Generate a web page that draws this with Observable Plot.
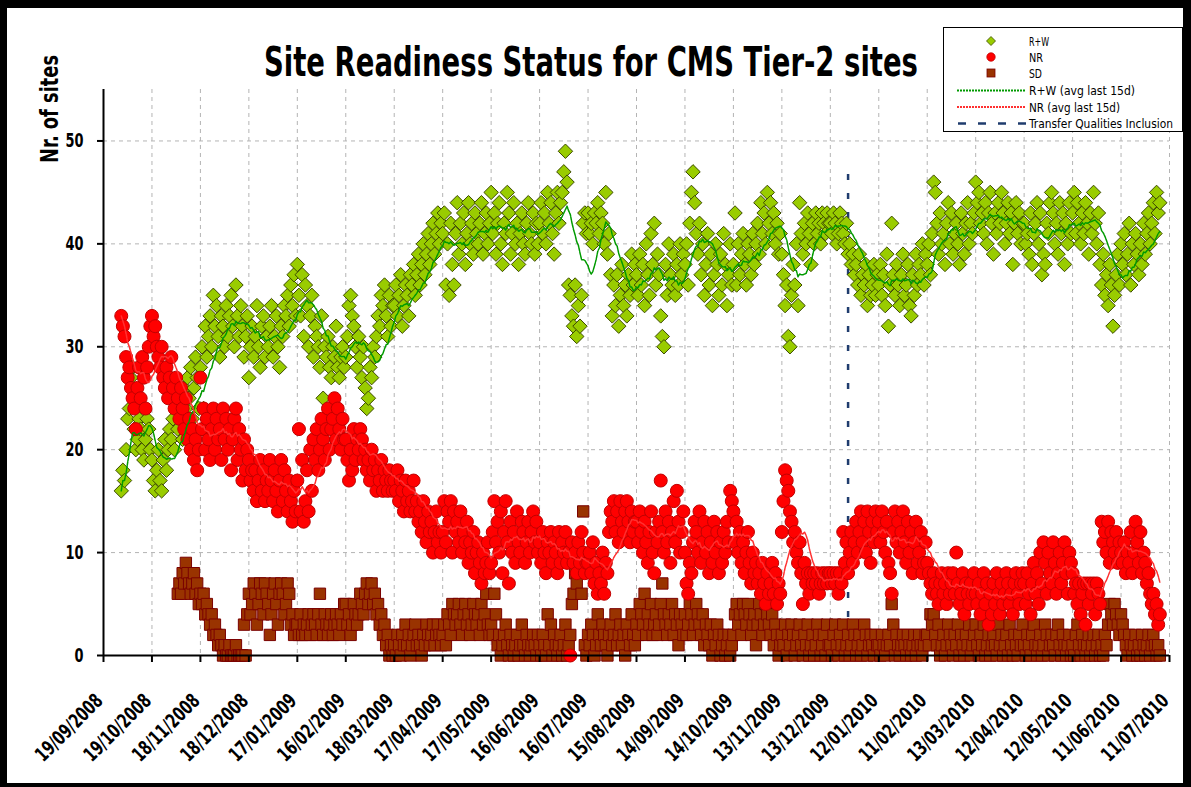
<!DOCTYPE html>
<html><head><meta charset="utf-8">
<script src="https://cdn.jsdelivr.net/npm/d3@7"></script>
<script src="https://cdn.jsdelivr.net/npm/@observablehq/plot@0.6"></script>
<style>
html,body{margin:0;padding:0;background:#000;width:1191px;height:787px;overflow:hidden;}
#panel{position:absolute;left:7px;top:8px;width:1176px;height:775px;background:#fff;}
#chart{position:absolute;left:0;top:0;}
#overlay{position:absolute;left:0;top:0;pointer-events:none;}
</style></head><body>
<div id="panel"></div>
<div id="chart"></div>
<svg id="overlay" width="1191" height="787"></svg>
<script>
// ---------------- data ----------------
const chartTitle = "Site Readiness Status for CMS Tier-2 sites";
const yLabel = "Nr. of sites";
const tickLabels = ["19/09/2008","19/10/2008","18/11/2008","18/12/2008","17/01/2009","16/02/2009","18/03/2009","17/04/2009","17/05/2009","16/06/2009","16/07/2009","15/08/2009","14/09/2009","14/10/2009","13/11/2009","13/12/2009","12/01/2010","11/02/2010","13/03/2010","12/04/2010","12/05/2010","11/06/2010","11/07/2010"];
const yTicks = [0, 10, 20, 30, 40, 50];
const seriesNames = ["R+W", "NR", "SD"];
const avgNames = ["R+W (avg last 15d)", "NR (avg last 15d)"];
const eventName = "Transfer Qualities Inclusion";
const eventDate = "24/12/2009";
const rwStart = "30/09/2008";
const nrStart = "30/09/2008";
const sdStart = "04/11/2008";

// daily R+W counts
const rwValues = [
16,18,17,20,23,24,27,28,22,20,21,23,22,20,19,21,23,22,20,
19,17,16,18,20,17,16,19,21,18,20,22,21,23,20,24,22,25,23,21,26,24,27,25,28,23,26,29,27,24,
28,30,24,32,29,31,33,30,35,32,34,31,29,33,32,30,34,31,33,35,32,30,36,33,31,34,32,29,31,33,
27,30,32,29,31,34,30,28,32,33,29,31,30,32,34,29,31,33,30,28,32,31,34,33,35,32,36,34,37,33,
38,35,33,37,31,36,34,30,33,35,29,32,31,30,28,33,25,30,29,31,28,27,30,29,32,28,27,29,30,28,
29,31,34,35,33,32,30,28,31,29,27,30,26,24,25,28,27,30,29,31,33,32,35,34,36,33,31,35,32,34,
34,36,33,35,37,32,34,36,35,33,37,36,38,35,37,39,36,38,40,37,39,41,38,40,42,39,41,43,40,42,
41,43,36,40,35,42,38,36,41,44,39,42,40,43,38,41,44,40,42,39,43,41,40,42,44,39,41,43,40,42,
45,41,43,39,42,44,40,38,42,41,45,43,39,41,44,40,42,38,41,43,40,39,42,44,41,40,43,39,42,40,
42,44,41,43,40,45,42,44,41,39,43,45,42,44,45,47,49,46,36,35,33,32,36,31,34,32,35,42,43,41,
43,41,42,40,43,42,44,41,43,42,40,45,39,41,37,33,36,34,37,32,35,38,34,36,33,37,35,39,36,38,
37,35,39,36,38,34,40,37,35,41,38,42,36,39,37,33,31,30,38,35,40,37,36,39,35,38,36,40,37,39,
38,40,36,42,45,47,44,41,39,42,37,40,35,38,41,36,39,34,37,40,38,35,39,36,41,38,34,37,40,36,
38,43,36,40,37,39,41,38,36,40,39,37,41,38,40,42,39,44,41,43,40,45,42,44,41,43,40,42,39,41,
39,37,34,36,31,30,35,38,36,40,34,44,41,39,42,40,43,41,38,42,40,43,41,42,40,43,42,41,43,42,
42,41,43,42,40,41,43,42,41,40,42,39,40,38,39,37,38,36,39,35,37,36,38,34,37,35,36,38,35,37,
36,38,35,37,34,39,32,36,42,37,35,38,36,34,37,39,35,36,38,34,33,37,35,39,36,38,37,40,36,39,
38,40,37,41,46,45,42,39,43,40,41,38,42,44,40,43,39,41,42,40,38,43,41,39,42,44,40,42,41,43,
46,44,45,42,43,41,44,40,43,45,42,39,43,41,44,42,45,43,40,42,44,41,43,38,42,44,41,43,40,42,
42,40,41,39,43,38,41,42,44,40,43,37,39,38,42,41,44,45,43,40,42,39,44,41,43,38,42,40,44,41,
43,45,41,44,42,40,43,41,44,42,39,43,41,45,42,40,43,38,36,39,35,37,34,38,36,32,35,37,39,36,
40,38,41,37,39,42,36,40,38,41,39,37,40,38,42,39,41,43,40,42,44,41,45,43,44
];

// daily NR counts
const nrValues = [
33,32,31,29,27,28,26,25,24,22,26,28,25,29,27,24,28,30,32,
33,31,32,30,29,28,30,27,26,28,25,27,29,26,24,27,25,23,26,24,22,25,21,23,20,22,19,21,18,20,
27,22,24,20,23,21,19,22,24,20,23,21,22,19,24,21,23,20,22,18,21,23,24,19,22,20,17,21,18,20,
19,17,18,16,18,15,17,19,16,18,15,17,16,19,17,15,18,16,14,17,19,15,18,16,14,17,15,13,16,14,
17,22,14,19,13,15,18,14,20,16,21,19,22,18,20,23,21,19,22,24,20,22,23,25,21,24,22,20,23,21,
21,19,17,20,18,22,19,21,20,22,21,19,20,18,19,17,20,18,19,16,18,17,19,16,18,17,16,18,17,16,
17,16,18,15,17,16,14,17,15,16,14,15,17,14,15,13,14,12,15,13,11,14,12,13,10,12,14,11,12,10,
12,15,11,14,13,15,10,14,12,13,11,14,10,12,11,13,9,11,10,12,8,10,11,9,7,10,8,9,11,8,
9,12,15,11,13,10,14,8,12,15,11,7,13,10,12,9,14,11,10,13,12,9,11,13,10,12,14,11,13,10,
11,9,12,10,8,11,10,12,9,11,10,8,12,9,11,10,12,9,10,0,11,9,10,8,11,9,12,10,8,9,
9,10,8,11,7,9,6,8,7,10,6,9,8,12,14,13,15,12,14,11,15,13,12,14,15,13,11,14,12,13,
13,11,14,12,10,13,11,9,12,14,10,8,12,11,13,17,12,10,14,11,13,9,12,15,11,16,13,10,12,14,
10,7,6,9,8,11,13,12,10,14,9,11,13,10,12,8,11,9,13,10,12,8,11,9,12,10,13,11,16,15,
14,11,13,10,12,9,11,8,10,12,9,7,10,8,9,7,8,6,9,7,5,8,6,7,9,6,8,5,7,6,
12,15,18,17,16,14,13,11,12,10,9,11,8,5,9,7,8,6,8,7,8,7,8,6,7,8,7,8,7,8,
8,7,8,7,8,6,8,7,12,9,11,8,10,12,9,11,13,10,12,14,11,13,10,14,12,9,13,11,14,12,
13,11,14,12,10,13,9,8,6,12,14,11,13,10,12,14,11,9,13,10,12,8,11,13,9,10,12,8,9,11,
9,8,7,6,8,7,6,5,7,8,6,7,5,8,6,7,8,6,10,7,5,6,8,4,7,6,5,7,6,8,
6,5,7,4,6,8,5,7,3,6,4,7,5,8,6,4,7,5,6,8,7,5,6,4,7,8,6,5,7,8,
7,5,8,6,4,7,9,6,8,5,10,7,11,9,6,10,8,7,11,9,6,8,10,7,9,11,8,6,10,9,
8,6,7,5,7,4,6,7,3,7,5,7,6,7,4,7,6,5,13,11,12,10,13,9,12,11,10,12,9,11,
10,9,11,8,10,9,12,8,10,13,11,9,12,8,10,9,7,8,6,5,6,4,5,3,4
];

// daily SD counts
const sdValues = [
6,7,6,8,7,9,8,7,6,7,8,6,7,5,
6,5,6,4,5,4,3,4,2,3,2,1,2,1,0,1,0,0,1,0,0,0,1,0,0,0,0,3,0,4,
6,4,5,7,6,3,5,7,6,4,7,6,5,2,4,6,7,5,3,6,7,6,4,5,7,6,3,4,2,3,
3,2,4,2,3,2,3,4,2,3,4,3,2,4,6,3,2,4,3,2,3,4,2,3,4,3,2,4,3,5,
5,3,4,2,3,5,4,3,4,6,5,4,6,7,5,6,7,5,6,4,5,3,4,2,3,1,2,0,1,0,
1,0,2,1,0,2,1,3,1,2,0,1,2,3,1,2,1,0,2,1,3,2,1,2,3,1,2,3,2,1,
2,3,1,4,3,2,5,4,3,4,5,3,2,4,5,3,4,2,3,5,4,3,4,2,5,3,4,6,3,2,
3,2,6,4,1,2,0,1,2,3,1,0,2,1,0,1,2,0,1,3,1,0,2,1,0,1,2,1,0,2,
1,0,2,1,0,4,1,3,0,2,1,0,1,2,0,1,3,0,1,2,5,6,8,7,10,9,6,14,1,0,
2,1,3,2,0,1,4,2,1,3,2,1,0,2,3,1,2,4,1,2,3,1,2,0,3,2,1,4,2,1,
3,2,5,4,3,6,2,4,3,5,2,3,4,2,3,5,7,4,3,2,4,3,5,2,4,3,1,4,3,2,
4,2,3,5,4,2,3,5,4,3,2,4,1,3,2,1,3,0,2,1,3,2,0,1,2,0,1,2,0,1,
2,4,5,3,4,2,5,4,3,5,4,2,3,4,1,3,5,4,2,3,5,4,3,2,4,1,3,2,0,1,
2,1,3,0,2,1,3,2,0,1,2,3,1,0,2,1,3,0,1,2,0,1,3,2,0,1,2,0,3,1,
1,0,2,3,1,0,2,1,3,0,1,2,0,1,3,2,0,1,2,0,1,3,2,0,1,2,1,0,2,1,
1,0,2,1,0,1,2,1,5,3,0,2,1,0,1,2,1,0,2,1,0,1,2,0,1,2,1,0,1,2,
2,1,4,3,4,2,1,3,0,1,2,0,1,3,2,1,0,2,1,3,0,2,1,0,2,1,3,0,1,2,
3,1,0,2,1,3,0,1,2,0,1,2,1,0,3,1,2,0,1,2,0,3,1,0,2,1,0,2,1,3,
1,0,2,1,0,2,3,1,0,1,2,0,1,3,2,0,1,2,1,0,2,3,1,0,2,1,0,1,2,0,
1,0,2,3,1,0,2,1,0,1,2,0,1,2,0,1,2,0,1,0,2,1,3,5,4,3,5,4,3,2,
4,3,2,1,0,2,1,0,1,2,0,1,0,2,1,0,1,2,0,1,2,1,0,1,0
];

// ---------------- build ----------------
const NARROW = "'Liberation Sans Narrow','Arial Narrow','DejaVu Sans Condensed',sans-serif";
const parse = d3.utcParse("%d/%m/%Y");
const fmt = d3.utcFormat("%d/%m/%Y");
const tickDates = tickLabels.map(parse);
const toSeries = (start, values) => values.map((v, i) => ({date: d3.utcDay.offset(parse(start), i), v}));
const rwData = toSeries(rwStart, rwValues);
const nrData = toSeries(nrStart, nrValues);
const sdData = toSeries(sdStart, sdValues);

const C = {
  rwFill: "#99cc00", rwStroke: "#3c4a00",
  nrFill: "#ff0000", nrStroke: "#c00000",
  sdFill: "#993300", sdStroke: "#7a0000",
  rwLine: "#009a00", nrLine: "#ff3030", event: "#1f3c6e", grid: "#b4b4b4"
};

const chart = Plot.plot({
  width: 1191, height: 787,
  marginLeft: 103, marginRight: 22, marginTop: 89, marginBottom: 132,
  style: {background: "transparent", fontFamily: NARROW, fontSize: "18px", fontWeight: "bold", color: "#000", overflow: "visible"},
  x: {type: "utc", domain: [tickDates[0], tickDates[tickDates.length - 1]], label: null},
  y: {domain: [0, 55], label: null},
  marks: [
    Plot.gridY(yTicks.filter(d => d > 0), {stroke: C.grid, strokeOpacity: 1, strokeDasharray: "4,4"}),
    Plot.gridX(tickDates.slice(1), {stroke: C.grid, strokeOpacity: 1, strokeDasharray: "4,4"}),
    Plot.ruleX([parse(eventDate)], {y1: 0, y2: 48, stroke: C.event, strokeWidth: 2.5, strokeDasharray: "6,13"}),
    Plot.dot(sdData, {x: "date", y: "v", symbol: "square", r: 6.4, fill: C.sdFill, stroke: C.sdStroke, strokeWidth: 1}),
    Plot.dot(rwData, {x: "date", y: "v", symbol: "diamond2", r: 6.5, fill: C.rwFill, stroke: C.rwStroke, strokeWidth: 1}),
    Plot.dot(nrData, {x: "date", y: "v", symbol: "circle", r: 6.5, fill: C.nrFill, stroke: C.nrStroke, strokeWidth: 1}),
    Plot.lineY(rwData, Plot.windowY({k: 15, anchor: "end", reduce: "mean"}, {x: "date", y: "v", stroke: C.rwLine, strokeWidth: 1.5, strokeDasharray: "3,1"})),
    Plot.lineY(nrData, Plot.windowY({k: 15, anchor: "end", reduce: "mean"}, {x: "date", y: "v", stroke: C.nrLine, strokeWidth: 1.5, strokeDasharray: "3,1"})),
    Plot.ruleY([0], {stroke: "#000", strokeWidth: 2}),
    Plot.ruleX([tickDates[0]], {y1: 0, y2: 55, stroke: "#000", strokeWidth: 2}),
    Plot.axisY(yTicks, {tickSize: 6, tickPadding: 14, strokeWidth: 2, fontSize: 20, label: null}),
    Plot.axisX(tickDates, {tickFormat: fmt, tickRotate: -45, tickSize: 7, tickPadding: 17, strokeWidth: 2, fontSize: 20, label: null})
  ]
});
document.getElementById("chart").append(chart);

// condensed look of the original tick font, and label offset from the ticks
const xLab = chart.querySelector('[aria-label="x-axis tick label"]');
if (xLab) {
  xLab.setAttribute("transform", ((xLab.getAttribute("transform") || "") + " translate(-4,18)").trim());
  xLab.querySelectorAll("text").forEach(t => {
    t.setAttribute("textLength", 86); t.setAttribute("lengthAdjust", "spacingAndGlyphs");
  });
}
chart.querySelectorAll('[aria-label="y-axis tick label"] text').forEach(t => {
  t.setAttribute("textLength", 9 * t.textContent.length); t.setAttribute("lengthAdjust", "spacingAndGlyphs");
});

// ---------------- title, axis title, legend ----------------
const ov = d3.select("#overlay");
ov.append("text").text(chartTitle)
  .attr("x", 264).attr("y", 76).attr("textLength", 654).attr("lengthAdjust", "spacingAndGlyphs")
  .style("font-family", NARROW).style("font-weight", "bold").style("font-size", "40px").attr("fill", "#000");
ov.append("text").text(yLabel)
  .attr("transform", "translate(58,109) rotate(-90)").attr("text-anchor", "middle")
  .attr("textLength", 108).attr("lengthAdjust", "spacingAndGlyphs")
  .style("font-family", NARROW).style("font-weight", "bold").style("font-size", "24px").attr("fill", "#000");

const lg = ov.append("g");
lg.append("rect").attr("x", 943.5).attr("y", 27.5).attr("width", 239).attr("height", 104)
  .attr("fill", "#fff").attr("stroke", "#000").attr("stroke-width", 1);
const legendRows = [
  {name: seriesNames[0], kind: "diamond", cy: 41, base: 45.5, w: 20},
  {name: seriesNames[1], kind: "circle", cy: 57, base: 61.5, w: 14},
  {name: seriesNames[2], kind: "square", cy: 73, base: 77.5, w: 13},
  {name: avgNames[0], kind: "rwline", cy: 90.5, base: 95, w: 106},
  {name: avgNames[1], kind: "nrline", cy: 107, base: 111.5, w: 91},
  {name: eventName, kind: "event", cy: 123.5, base: 128, w: 144}
];
for (const r of legendRows) {
  if (r.kind === "diamond") lg.append("path").attr("d", `M991,${r.cy-4.5}L995.5,${r.cy}L991,${r.cy+4.5}L986.5,${r.cy}Z`).attr("fill", C.rwFill).attr("stroke", C.rwStroke).attr("stroke-width", 0.8);
  if (r.kind === "circle") lg.append("circle").attr("cx", 991).attr("cy", r.cy).attr("r", 4.2).attr("fill", C.nrFill).attr("stroke", C.nrStroke).attr("stroke-width", 0.8);
  if (r.kind === "square") lg.append("rect").attr("x", 987).attr("y", r.cy - 4).attr("width", 8).attr("height", 8).attr("fill", C.sdFill).attr("stroke", C.sdStroke).attr("stroke-width", 0.8);
  if (r.kind === "rwline") lg.append("line").attr("x1", 957).attr("x2", 1025).attr("y1", r.cy).attr("y2", r.cy).attr("stroke", C.rwLine).attr("stroke-width", 2).attr("stroke-dasharray", "2,1");
  if (r.kind === "nrline") lg.append("line").attr("x1", 957).attr("x2", 1025).attr("y1", r.cy).attr("y2", r.cy).attr("stroke", C.nrLine).attr("stroke-width", 2).attr("stroke-dasharray", "2,1");
  if (r.kind === "event") lg.append("line").attr("x1", 958).attr("x2", 1026).attr("y1", r.cy).attr("y2", r.cy).attr("stroke", C.event).attr("stroke-width", 2.5).attr("stroke-dasharray", "8,12");
  lg.append("text").text(r.name).attr("x", 1029).attr("y", r.base)
    .attr("textLength", r.w).attr("lengthAdjust", "spacingAndGlyphs")
    .style("font-family", NARROW).style("font-size", "13px").attr("fill", "#000");
}
</script></body></html>
